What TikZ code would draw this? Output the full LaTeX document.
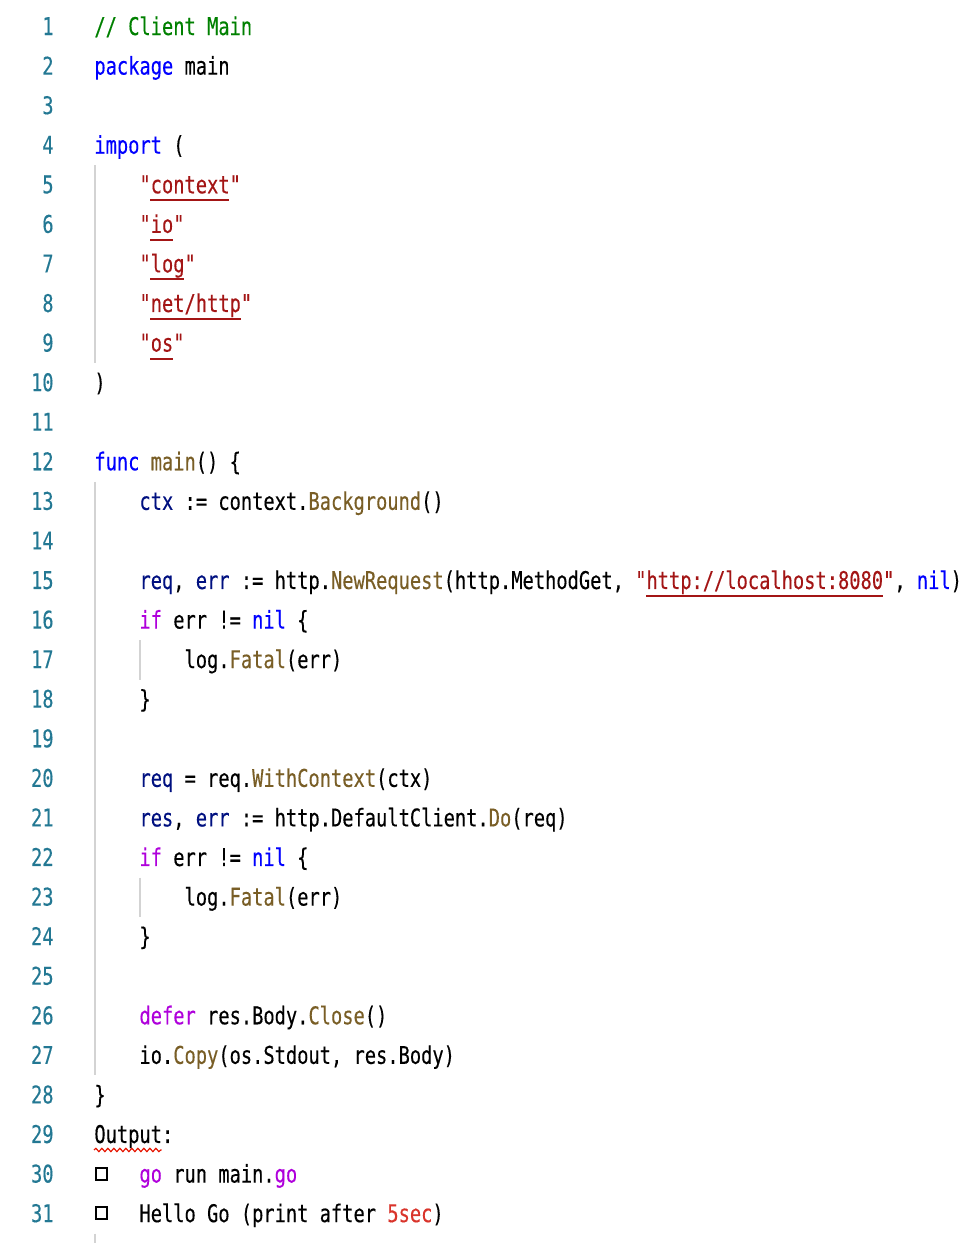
\documentclass[tikz,border=0pt]{standalone}
\usepackage{fontspec}
\usepackage{xcolor}
\usetikzlibrary{decorations.pathmorphing}
\newfontfamily\codefont[FakeStretch=0.767, FakeBold=0.3]{DejaVu Sans Mono}
\definecolor{lnumc}{HTML}{237893}
\definecolor{kwblue}{HTML}{0000FF}
\definecolor{ctlpurple}{HTML}{AF00DB}
\definecolor{fnbrown}{HTML}{795E26}
\definecolor{varnavy}{HTML}{001080}
\definecolor{strred}{HTML}{A31515}
\definecolor{cmtgreen}{HTML}{008000}
\definecolor{numred}{HTML}{D9342B}
\definecolor{squig}{HTML}{E51400}
\definecolor{guidec}{HTML}{D3D3D3}
\newcommand{\kw}[1]{\textcolor{kwblue}{#1}}
\newcommand{\ctl}[1]{\textcolor{ctlpurple}{#1}}
\newcommand{\fn}[1]{\textcolor{fnbrown}{#1}}
\newcommand{\var}[1]{\textcolor{varnavy}{#1}}
\newcommand{\str}[1]{\textcolor{strred}{#1}}
\newcommand{\cmt}[1]{\textcolor{cmtgreen}{#1}}
\newcommand{\yl}[1]{(35+(#1-1)*39.57)}
\newcommand{\xc}[1]{(94+#1*11.27)}
\tikzset{
  code/.style={anchor=base west, inner sep=0pt, font=\codefont\fontsize{12.2}{14}\selectfont},
  lnum/.style={anchor=base east, inner sep=0pt, text=lnumc, font=\codefont\fontsize{12.2}{14}\selectfont},
  guide/.style={guidec, line width=0.6pt},
  strline/.style={strred, line width=1pt},
  chkbox/.style={black, line width=1pt},
}

\begin{document}
\begin{tikzpicture}[x=0.5pt, y=-0.5pt]
    \useasboundingbox (0,0) rectangle (977,1243);
    \clip (0,0) rectangle (977,1243);
    % line numbers
    \foreach \n in {1,...,31}
      \node[lnum] (ln\n) at (54,{\yl{\n}}) {\n};
    % indent guides
    \draw[guide] (95,{\yl{5}-28}) -- (95,{\yl{9}+11.6});
    \draw[guide] (95,{\yl{13}-28}) -- (95,{\yl{27}+11.6});
    \draw[guide] (140,{\yl{17}-28}) -- (140,{\yl{17}+11.6});
    \draw[guide] (140,{\yl{23}-28}) -- (140,{\yl{23}+11.6});
    \draw[guide] (95,{\yl{32}-28}) -- (95,1250);
    % code
    \node[code] (c1) at ({\xc{0}},{\yl{1}}) {\cmt{// Client Main}};
    \node[code] (c2) at ({\xc{0}},{\yl{2}}) {\kw{package} main};
    \node[code] (c4) at ({\xc{0}},{\yl{4}}) {\kw{import} (};
    \node[code] (c5) at ({\xc{4}},{\yl{5}}) {\str{"context"}};
    \node[code] (c6) at ({\xc{4}},{\yl{6}}) {\str{"io"}};
    \node[code] (c7) at ({\xc{4}},{\yl{7}}) {\str{"log"}};
    \node[code] (c8) at ({\xc{4}},{\yl{8}}) {\str{"net/http"}};
    \node[code] (c9) at ({\xc{4}},{\yl{9}}) {\str{"os"}};
    \node[code] (c10) at ({\xc{0}},{\yl{10}}) {)};
    \node[code] (c12) at ({\xc{0}},{\yl{12}}) {\kw{func} \fn{main}() \{};
    \node[code] (c13) at ({\xc{4}},{\yl{13}}) {\var{ctx} := context.\fn{Background}()};
    \node[code] (c15) at ({\xc{4}},{\yl{15}}) {\var{req}, \var{err} := http.\fn{NewRequest}(http.MethodGet, \str{"http://localhost:8080"}, \kw{nil})};
    \node[code] (c16) at ({\xc{4}},{\yl{16}}) {\ctl{if} err != \kw{nil} \{};
    \node[code] (c17) at ({\xc{8}},{\yl{17}}) {log.\fn{Fatal}(err)};
    \node[code] (c18) at ({\xc{4}},{\yl{18}}) {\}};
    \node[code] (c20) at ({\xc{4}},{\yl{20}}) {\var{req} = req.\fn{WithContext}(ctx)};
    \node[code] (c21) at ({\xc{4}},{\yl{21}}) {\var{res}, \var{err} := http.DefaultClient.\fn{Do}(req)};
    \node[code] (c22) at ({\xc{4}},{\yl{22}}) {\ctl{if} err != \kw{nil} \{};
    \node[code] (c23) at ({\xc{8}},{\yl{23}}) {log.\fn{Fatal}(err)};
    \node[code] (c24) at ({\xc{4}},{\yl{24}}) {\}};
    \node[code] (c26) at ({\xc{4}},{\yl{26}}) {\ctl{defer} res.Body.\fn{Close}()};
    \node[code] (c27) at ({\xc{4}},{\yl{27}}) {io.\fn{Copy}(os.Stdout, res.Body)};
    \node[code] (c28) at ({\xc{0}},{\yl{28}}) {\}};
    \node[code] (c29) at ({\xc{0}},{\yl{29}}) {Output:};
    \node[code] (c30) at ({\xc{4}},{\yl{30}}) {\ctl{go} run main.\ctl{go}};
    \node[code] (c31) at ({\xc{4}},{\yl{31}}) {Hello Go (print after \textcolor{numred}{5sec})};
    % string underlines
    \foreach \ln/\a/\b in {5/5/12, 6/5/7, 7/5/8, 8/5/13, 9/5/7, 15/49/70}
      \draw[strline] ({\xc{\a}},{\yl{\ln}+7}) -- ({\xc{\b}},{\yl{\ln}+7});
    \draw[squig, line width=0.6pt, decorate,
      decoration={snake, segment length=3pt, amplitude=0.8pt}]
      ({\xc{0}},{\yl{29}+7}) -- ({\xc{6}},{\yl{29}+7});
    % output boxes
    \foreach \ln in {30,31}
      \draw[chkbox] (96,{\yl{\ln}-15}) rectangle ++(11,12);
\end{tikzpicture}
\end{document}
